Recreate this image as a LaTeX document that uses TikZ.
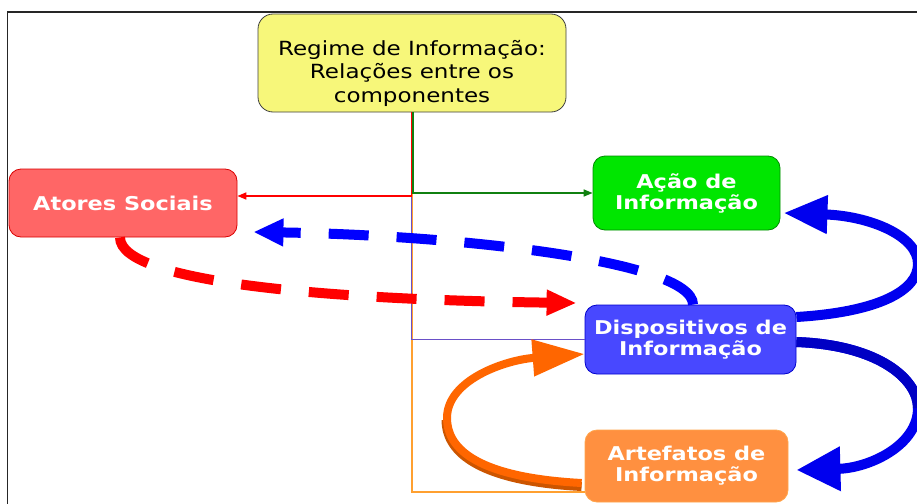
\documentclass[tikz,border=0pt]{standalone}
\usepackage{fontspec}
\setmainfont{DejaVu Sans}[FakeStretch=1.18]
\usetikzlibrary{arrows.meta}
\definecolor{regyellow}{HTML}{F7F77A}
\definecolor{atoresfill}{HTML}{FF6666}
\definecolor{acaofill}{HTML}{00E600}
\definecolor{dispfill}{HTML}{4848FF}
\definecolor{artfill}{HTML}{FF9040}
\definecolor{arcblue}{HTML}{0000EE}
\definecolor{arcdark}{HTML}{0000C4}
\definecolor{orarrow}{HTML}{FF6600}
\definecolor{ordark}{HTML}{CC5500}
\definecolor{purpleline}{HTML}{6A50C8}
\definecolor{orline}{HTML}{FFA030}
\definecolor{greenline}{HTML}{108010}
\begin{document}
\begin{tikzpicture}[x=1pt,y=-1pt,
  box/.style={draw, rounded corners=12pt, inner sep=0pt, align=center, text=white,
    font=\fontsize{19}{21}\selectfont\bfseries, line width=0.8pt},
  regbox/.style={draw=black!75, fill=regyellow, rounded corners=15pt, line width=0.8pt,
    minimum width=308pt, minimum height=98pt, inner sep=0pt},
  regtext/.style={align=center, inner sep=0pt, font=\fontsize{19.5}{23.5}\selectfont},
  conn/.style={line width=1.6pt},
  smalltip/.style={-{Triangle[length=9pt,width=7pt]}},
  dasharrow/.style={line width=10pt, dash pattern=on 40pt off 28pt},
  bigarc/.style={line width=10pt},
]
\useasboundingbox (0,0) rectangle (917,503);
\clip (0,0) rectangle (917,503);
\fill[white] (0,0) rectangle (917,503);
% frame
\draw[line width=1.6pt, black!85] (7.5,12) rectangle (960,560);

% nodes
\node[regbox] (reg) at (412,63) {};
\node[regtext] (regt) at (412,73) {Regime de Informação:\\Relações entre os\\componentes};
\node[box, fill=atoresfill, draw=red!85!black, minimum width=228pt, minimum height=68pt] (atores) at (123,203) {Atores Sociais};
\node[box, fill=acaofill, draw=green!55!black, minimum width=187pt, minimum height=74pt] (acao) at (686.5,193) {Ação de\\Informação};
\node[box, fill=dispfill, draw=blue!80!black, minimum width=211pt, minimum height=69pt] (disp) at (690.5,339.5) {Dispositivos de\\Informação};
\node[box, fill=artfill, draw=orange!70!white, minimum width=203pt, minimum height=72pt] (art) at (686.5,466) {Artefatos de\\Informação};

% tree connectors
\draw[conn, orline] (reg.south) |- ([yshift=-26pt]art.west);
\draw[conn, purpleline] ([xshift=-0.7pt]reg.south) |- (disp.west);
\draw[conn, red, smalltip] ([xshift=-0.7pt]reg.south) |- ([yshift=7pt]atores.east);
\draw[conn, greenline, smalltip] ([xshift=0.7pt]reg.south) |- (acao.west);

% dashed arrows
\draw[dasharrow, blue, -{Triangle[length=30pt,width=26pt]}]
  ([xshift=2.5pt]disp.north) .. controls (693,260) and (450,235) .. ([xshift=16pt,yshift=-29pt]atores.east);
\draw[dasharrow, red, -{Triangle[length=30pt,width=24pt]}]
  ([xshift=-3pt]atores.south) .. controls (120,285) and (350,300) .. ([xshift=-8pt,yshift=36.5pt]disp.west);

% blue arcs
\draw[bigarc, arcblue, -{Triangle[length=44pt,width=36pt]}]
  ([yshift=22.5pt]disp.east) .. controls (880,312) and (918,290) .. (918,264)
  .. controls (918,236) and (870,216) .. ([xshift=3pt,yshift=-20pt]acao.east);
\draw[bigarc, arcblue, -{Triangle[length=44pt,width=42pt]}]
  ([yshift=-2.5pt]disp.east) .. controls (880,345) and (918,380) .. (918,408)
  .. controls (918,445) and (870,468) .. ([xshift=8pt,yshift=-4pt]art.east);
\draw[bigarc, arcdark]
  ([yshift=-2.5pt]disp.east) .. controls (880,345) and (918,380) .. (918,408);

% orange arc
\draw[line width=9pt, ordark]
  ([xshift=-3pt,yshift=-20.5pt]art.west) .. controls (470,480.5) and (446,447.5) .. (446,420);
\draw[line width=8pt, orarrow, -{Triangle[length=52pt,width=35pt]}]
  ([xshift=-3pt,yshift=-17pt]art.west) .. controls (470,477) and (447,445) .. (447,418)
  .. controls (447,380) and (505,360) .. ([yshift=-14.5pt]disp.west);
\end{tikzpicture}
\end{document}
